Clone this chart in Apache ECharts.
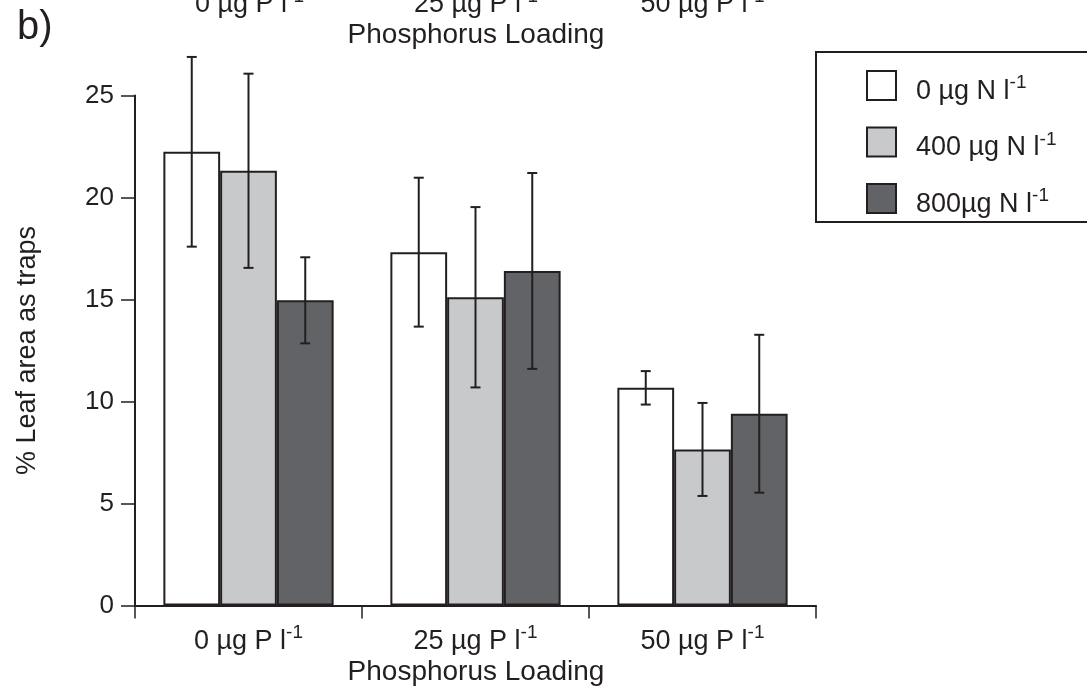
<!DOCTYPE html>
<html>
<head>
<meta charset="utf-8">
<script src="https://cdn.jsdelivr.net/npm/echarts@6/dist/echarts.min.js"></script>
<style>
html,body{margin:0;padding:0;background:#fff;}
#c{width:1087px;height:693px;}
</style>
</head>
<body>
<div id="c"></div>
<script>
// ---- data ----
const categories = ['0 µg P l', '25 µg P l', '50 µg P l'];
const seriesNames = ['0 µg N l', '400 µg N l', '800µg N l'];
const n0Values = [22.24, 17.32, 10.67];
const n0Errors = [4.65, 3.65, 0.82];
const n400Values = [21.31, 15.11, 7.65];
const n400Errors = [4.76, 4.42, 2.28];
const n800Values = [14.96, 16.40, 9.40];
const n800Errors = [2.11, 4.80, 3.87];
const yTicks = [0, 5, 10, 15, 20, 25];
const xTitle = 'Phosphorus Loading';
const yTitle = '% Leaf area as traps';
const panelLabel = 'b)';

const INK = '#231f20';
const FONT = 'Liberation Sans, Arial, sans-serif';
const fills = ['#ffffff', '#c8c9cb', '#626366'];
const values = [n0Values, n400Values, n800Values];
const errors = [n0Errors, n400Errors, n800Errors];

const chart = echarts.init(document.getElementById('c'), null, {renderer: 'canvas'});

const barSeries = values.map((v, k) => ({
  name: seriesNames[k],
  type: 'bar',
  data: v,
  barWidth: '25%',
  barGap: '0%',
  itemStyle: {color: fills[k], borderColor: INK, borderWidth: 2},
  emphasis: {disabled: true},
  z: 2
}));

const errSeries = values.map((v, k) => ({
  name: seriesNames[k] + ' err',
  type: 'custom',
  clip: false,
  z: 5,
  data: v.map((m, i) => [i, m - errors[k][i], m + errors[k][i]]),
  encode: {x: 0, y: [1, 2]},
  renderItem: function (params, api) {
    const i = api.value(0);
    const lo = api.coord([i, api.value(1)]);
    const hi = api.coord([i, api.value(2)]);
    const bw = api.size([1, 0])[0] * 0.25;
    const x = lo[0] + (k - 1) * bw;
    const cap = 5;
    const st = {stroke: INK, lineWidth: 2};
    return {
      type: 'group',
      children: [
        {type: 'line', shape: {x1: x, y1: lo[1], x2: x, y2: hi[1]}, style: st},
        {type: 'line', shape: {x1: x - cap, y1: lo[1], x2: x + cap, y2: lo[1]}, style: st},
        {type: 'line', shape: {x1: x - cap, y1: hi[1], x2: x + cap, y2: hi[1]}, style: st}
      ]
    };
  }
}));

const supRich = {
  sup: {fontSize: 19, fontFamily: FONT, color: INK, verticalAlign: 'top', lineHeight: 14}
};

// clipped duplicate of the bottom axis texts at the very top of the picture
const topShiftY = -637;
const catCenters = [249.5, 476, 702.5];
function topCopies() {
  const items = categories.map((c, i) => ({
    type: 'text',
    x: catCenters[i],
    y: 624 + topShiftY,
    style: {text: c + '{sup|-1}', fontSize: 27, fontFamily: FONT, fill: INK, lineHeight: 36,
            align: 'center', verticalAlign: 'top', rich: supRich}
  }));
  items.push({
    type: 'text',
    x: 476,
    y: 658 + topShiftY,
    style: {text: xTitle, fontSize: 28, fontFamily: FONT, fill: INK, align: 'center', verticalAlign: 'top'}
  });
  return items;
}

const option = {
  backgroundColor: '#ffffff',
  animation: false,
  grid: {left: 135, right: 271, top: 95.5, bottom: 87.5, containLabel: false},
  xAxis: {
    type: 'category',
    data: categories,
    boundaryGap: true,
    axisLine: {lineStyle: {color: INK, width: 2}},
    axisTick: {show: true, interval: 0, inside: false, length: 13, lineStyle: {color: INK, width: 1.5}},
    axisLabel: {
      interval: 0,
      hideOverlap: false,
      margin: 18,
      fontSize: 27,
      lineHeight: 36,
      fontFamily: FONT,
      color: INK,
      formatter: v => v + '{sup|-1}',
      rich: supRich
    }
  },
  yAxis: {
    type: 'value',
    min: yTicks[0],
    max: yTicks[yTicks.length - 1],
    interval: 5,
    name: yTitle,
    nameLocation: 'middle',
    nameGap: 94,
    nameTextStyle: {fontSize: 27, fontFamily: FONT, color: INK},
    axisLine: {show: true, lineStyle: {color: INK, width: 2}},
    axisTick: {show: true, inside: false, length: 14, lineStyle: {color: INK, width: 1.5}},
    axisLabel: {margin: 21, fontSize: 26, fontFamily: FONT, color: INK},
    splitLine: {show: false}
  },
  legend: {
    data: seriesNames,
    orient: 'vertical',
    left: 861,
    top: 56.5,
    itemWidth: 29,
    itemHeight: 29,
    itemGap: 8.5,
    icon: 'rect',
    selectedMode: false,
    itemStyle: {borderColor: INK, borderWidth: 2},
    textStyle: {fontSize: 27, lineHeight: 36, fontFamily: FONT, color: INK, rich: supRich, padding: [12, 0, 0, 15]},
    formatter: name => name + '{sup|-1}'
  },
  graphic: [
    {type: 'rect', shape: {x: 816, y: 52, width: 300, height: 170}, style: {fill: 'none', stroke: INK, lineWidth: 2}, z: 0},
    {type: 'text', x: 476, y: 658, style: {text: xTitle, fontSize: 28, fontFamily: FONT, fill: INK, align: 'center', verticalAlign: 'top'}},
    {type: 'text', left: 17, top: 8, style: {text: panelLabel, fontSize: 40, fontFamily: FONT, fill: INK}}
  ].concat(topCopies()),
  series: barSeries.concat(errSeries)
};

chart.setOption(option);
</script>
</body>
</html>
